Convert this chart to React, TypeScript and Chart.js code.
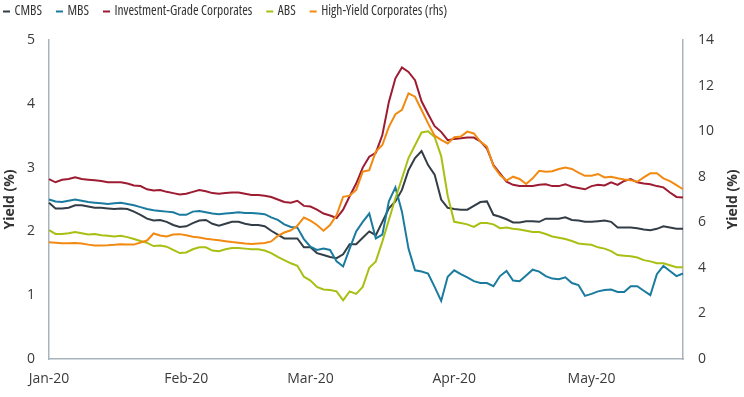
import React, { useEffect, useRef } from 'react';
import { Chart, registerables } from 'chart.js';

Chart.register(...registerables);

// ---------- categories: business days (bond market holidays removed) ----------
const START_DATE = '2020-01-02';
const END_DATE = '2020-05-21';
const HOLIDAYS = ['2020-01-20', '2020-02-17', '2020-04-10'];
const MONTH_LABELS = ['Jan-20', 'Feb-20', 'Mar-20', 'Apr-20', 'May-20'];

function businessDays(start: string, end: string, holidays: string[]): string[] {
  const out: string[] = [];
  const [sy, sm, sd] = start.split('-').map(Number);
  const [ey, em, ed] = end.split('-').map(Number);
  let t = Date.UTC(sy, sm - 1, sd);
  const stop = Date.UTC(ey, em - 1, ed);
  while (t <= stop) {
    const d = new Date(t);
    const wd = d.getUTCDay();
    const iso = d.toISOString().slice(0, 10);
    if (wd !== 0 && wd !== 6 && !holidays.includes(iso)) out.push(iso);
    t += 86400000;
  }
  return out;
}

const DATES = businessDays(START_DATE, END_DATE, HOLIDAYS);

// ---------- series (yield, %) ----------
const CMBS = [
  2.45, 2.36, 2.36, 2.37, 2.41, 2.41, 2.39, 2.37, 2.37, 2.36,
  2.35, 2.36, 2.35, 2.31, 2.26, 2.20, 2.17, 2.18, 2.15, 2.10,
  2.07, 2.08, 2.13, 2.17, 2.18, 2.12, 2.09, 2.12, 2.15, 2.15,
  2.12, 2.10, 2.10, 2.08, 2.01, 1.95, 1.89, 1.89, 1.89, 1.75,
  1.75, 1.66, 1.63, 1.60, 1.58, 1.64, 1.80, 1.80, 1.90, 2.00,
  1.94, 2.15, 2.36, 2.47, 2.65, 2.96, 3.15, 3.26, 3.04, 2.89,
  2.50, 2.37, 2.35, 2.34, 2.34, 2.40, 2.46, 2.47, 2.26, 2.23,
  2.19, 2.14, 2.14, 2.16, 2.16, 2.15, 2.20, 2.20, 2.20, 2.22,
  2.18, 2.17, 2.15, 2.15, 2.16, 2.17, 2.15, 2.06, 2.06, 2.06,
  2.05, 2.03, 2.02, 2.04, 2.08, 2.06, 2.04, 2.04,
];

const MBS = [
  2.50, 2.47, 2.46, 2.48, 2.50, 2.48, 2.46, 2.45, 2.44, 2.43,
  2.44, 2.45, 2.43, 2.41, 2.38, 2.35, 2.33, 2.32, 2.31, 2.30,
  2.26, 2.26, 2.31, 2.32, 2.30, 2.28, 2.27, 2.28, 2.29, 2.30,
  2.29, 2.29, 2.28, 2.27, 2.22, 2.18, 2.11, 2.07, 2.06, 1.88,
  1.76, 1.71, 1.73, 1.71, 1.53, 1.45, 1.73, 2.00, 2.15, 2.28,
  1.89, 1.95, 2.47, 2.69, 2.31, 1.73, 1.39, 1.37, 1.34, 1.13,
  0.91, 1.29, 1.39, 1.33, 1.28, 1.22, 1.19, 1.19, 1.14, 1.30,
  1.38, 1.23, 1.22, 1.31, 1.40, 1.37, 1.30, 1.26, 1.25, 1.28,
  1.19, 1.16, 0.99, 1.02, 1.06, 1.08, 1.09, 1.05, 1.05, 1.14,
  1.14, 1.07, 1.00, 1.33, 1.46, 1.38, 1.30, 1.34,
];

const IG_CORP = [
  2.82, 2.77, 2.81, 2.82, 2.85, 2.82, 2.81, 2.80, 2.79, 2.77,
  2.77, 2.77, 2.75, 2.72, 2.71, 2.66, 2.64, 2.65, 2.62, 2.60,
  2.58, 2.59, 2.62, 2.65, 2.63, 2.60, 2.59, 2.60, 2.61, 2.61,
  2.59, 2.57, 2.57, 2.56, 2.54, 2.50, 2.46, 2.45, 2.48, 2.40,
  2.39, 2.34, 2.28, 2.25, 2.21, 2.34, 2.55, 2.75, 3.00, 3.17,
  3.23, 3.51, 4.03, 4.40, 4.57, 4.50, 4.37, 4.04, 3.84, 3.65,
  3.56, 3.43, 3.45, 3.46, 3.47, 3.47, 3.41, 3.30, 3.04, 2.91,
  2.78, 2.73, 2.71, 2.71, 2.71, 2.73, 2.74, 2.71, 2.71, 2.74,
  2.70, 2.68, 2.66, 2.71, 2.73, 2.72, 2.77, 2.73, 2.79, 2.82,
  2.77, 2.75, 2.74, 2.71, 2.69, 2.61, 2.54, 2.53,
];

const ABS = [
  2.02, 1.96, 1.96, 1.97, 1.99, 1.97, 1.95, 1.96, 1.94, 1.93,
  1.92, 1.93, 1.91, 1.88, 1.85, 1.82, 1.77, 1.78, 1.76, 1.71,
  1.66, 1.67, 1.72, 1.75, 1.75, 1.70, 1.69, 1.72, 1.74, 1.74,
  1.73, 1.72, 1.72, 1.70, 1.66, 1.60, 1.55, 1.50, 1.46, 1.29,
  1.23, 1.13, 1.09, 1.08, 1.06, 0.92, 1.06, 1.02, 1.13, 1.43,
  1.53, 1.84, 2.18, 2.52, 2.83, 3.15, 3.35, 3.55, 3.57, 3.48,
  3.18, 2.56, 2.15, 2.13, 2.11, 2.07, 2.13, 2.13, 2.11, 2.05,
  2.06, 2.04, 2.03, 2.01, 1.99, 1.99, 1.96, 1.92, 1.90, 1.88,
  1.85, 1.81, 1.80, 1.79, 1.75, 1.73, 1.69, 1.63, 1.62, 1.61,
  1.59, 1.55, 1.53, 1.50, 1.50, 1.47, 1.44, 1.44,
];

const HY_CORP = [
  5.12, 5.10, 5.08, 5.08, 5.09, 5.07, 5.02, 4.98, 4.98, 4.99,
  5.01, 5.04, 5.03, 5.02, 5.11, 5.20, 5.51, 5.42, 5.38, 5.46,
  5.48, 5.43, 5.37, 5.33, 5.28, 5.24, 5.21, 5.17, 5.13, 5.10,
  5.07, 5.05, 5.07, 5.09, 5.16, 5.40, 5.55, 5.65, 5.85, 6.21,
  6.07, 5.88, 5.63, 5.88, 6.32, 7.12, 7.17, 7.42, 8.22, 8.29,
  9.10, 9.39, 10.19, 10.74, 10.93, 11.66, 11.51, 10.93, 10.34, 9.80,
  9.62, 9.46, 9.73, 9.76, 9.98, 9.90, 9.54, 9.32, 8.47, 8.07,
  7.83, 8.00, 7.90, 7.68, 7.93, 8.26, 8.22, 8.24, 8.34, 8.40,
  8.34, 8.18, 8.04, 8.04, 8.12, 7.97, 8.00, 7.93, 7.88, 7.85,
  7.78, 7.97, 8.15, 8.15, 7.93, 7.81, 7.63, 7.45,
];

const SERIES_NAMES = ['CMBS', 'MBS', 'Investment-Grade Corporates', 'ABS', 'High-Yield Corporates (rhs)'];
const SERIES_COLORS = ['#333d46', '#1a7b9f', '#9d1c31', '#a9bf14', '#f28a12'];
const SERIES_DATA = [CMBS, MBS, IG_CORP, ABS, HY_CORP];
const SERIES_AXIS = ['y', 'y', 'y', 'y', 'y1'];

const LEFT_TICKS = { min: 0, max: 5, step: 1 };
const RIGHT_TICKS = { min: 0, max: 14, step: 2 };
const AXIS_TITLE = 'Yield (%)';

const FONT = "'Open Sans', 'Noto Sans', sans-serif";
const TEXT_COLOR = '#3a3a3a';
const AXIS_COLOR = '#a9b3bc';

function monthLabelFor(index: number): string | null {
  const d = DATES[index];
  if (!d) return null;
  const prev = DATES[index - 1];
  if (index === 0 || (prev && prev.slice(5, 7) !== d.slice(5, 7))) {
    const m = Number(d.slice(5, 7)) - 1;
    return MONTH_LABELS[m] ?? null;
  }
  return null;
}

const textPlugin = {
  id: 'customText',
  afterDraw(chart: any) {
    const ctx: CanvasRenderingContext2D = chart.ctx;
    ctx.save();
    // legend
    ctx.font = `13.5px ${FONT}`;
    (ctx as any).fontStretch = 'condensed';
    ctx.textBaseline = 'middle';
    ctx.textAlign = 'left';
    let x = 3;
    const y = 11;
    chart.data.datasets.forEach((ds: any) => {
      ctx.strokeStyle = ds.borderColor;
      ctx.lineWidth = 2;
      ctx.beginPath();
      ctx.moveTo(x, y + 0.5);
      ctx.lineTo(x + 7, y + 0.5);
      ctx.stroke();
      ctx.fillStyle = '#333333';
      ctx.fillText(ds.label, x + 11.5, y);
      x += 11.5 + ctx.measureText(ds.label).width + 14;
    });
    // axis titles
    ctx.font = `bold 14px ${FONT}`;
    (ctx as any).fontStretch = 'normal';
    ctx.textAlign = 'center';
    const cy = (chart.chartArea.top + chart.chartArea.bottom) / 2;
    [10, 733].forEach((cx) => {
      ctx.save();
      ctx.translate(cx, cy);
      ctx.rotate(-Math.PI / 2);
      ctx.fillStyle = '#333333';
      ctx.fillText(AXIS_TITLE, 0, 0);
      ctx.restore();
    });
    ctx.restore();
  },
};

export default function App() {
  const ref = useRef<HTMLCanvasElement | null>(null);

  useEffect(() => {
    if (!ref.current) return;
    const tickFont = { family: FONT, size: 14 };
    const chart = new Chart(ref.current, {
      type: 'line',
      data: {
        labels: DATES,
        datasets: SERIES_NAMES.map((name, i) => ({
          label: name,
          data: SERIES_DATA[i],
          borderColor: SERIES_COLORS[i],
          backgroundColor: SERIES_COLORS[i],
          borderWidth: 2,
          pointRadius: 0,
          tension: 0,
          fill: false,
          yAxisID: SERIES_AXIS[i],
          order: SERIES_NAMES.length - i,
        })),
      },
      options: {
        animation: false,
        responsive: false,
        devicePixelRatio: 1,
        layout: { padding: { top: 40, left: 0, right: 0, bottom: 0 } },
        plugins: { legend: { display: false }, tooltip: { enabled: false } },
        scales: {
          x: {
            type: 'category',
            offset: false,
            grid: { display: false, drawTicks: false },
            border: { display: true, color: AXIS_COLOR, width: 1.5 },
            ticks: {
              autoSkip: false,
              maxRotation: 0,
              padding: 12,
              color: TEXT_COLOR,
              font: tickFont,
              callback: (v: any) => monthLabelFor(Number(v)),
            },
            afterBuildTicks: (s: any) => {
              s.ticks = s.ticks.filter((t: any) => monthLabelFor(t.value) !== null);
            },
            afterFit: (s: any) => {
              s.height = 38;
            },
          },
          y: {
            position: 'left',
            min: LEFT_TICKS.min,
            max: LEFT_TICKS.max,
            grid: { display: false, drawTicks: false },
            border: { display: true, color: AXIS_COLOR, width: 1.5 },
            ticks: { stepSize: LEFT_TICKS.step, padding: 14, color: TEXT_COLOR, font: tickFont },
            afterFit: (s: any) => {
              s.width = 49;
            },
          },
          y1: {
            position: 'right',
            min: RIGHT_TICKS.min,
            max: RIGHT_TICKS.max,
            grid: { display: false, drawTicks: false },
            border: { display: true, color: AXIS_COLOR, width: 1.5 },
            ticks: { stepSize: RIGHT_TICKS.step, padding: 15, color: TEXT_COLOR, font: tickFont },
            afterFit: (s: any) => {
              s.width = 61;
            },
          },
        },
      } as any,
      plugins: [textPlugin],
    });
    return () => chart.destroy();
  }, []);

  return (
    <div style={{ position: 'fixed', left: 0, top: 0, width: 744, height: 397, background: '#fff' }}>
      <canvas ref={ref} width={744} height={397} style={{ width: 744, height: 397, display: 'block' }} />
    </div>
  );
}
